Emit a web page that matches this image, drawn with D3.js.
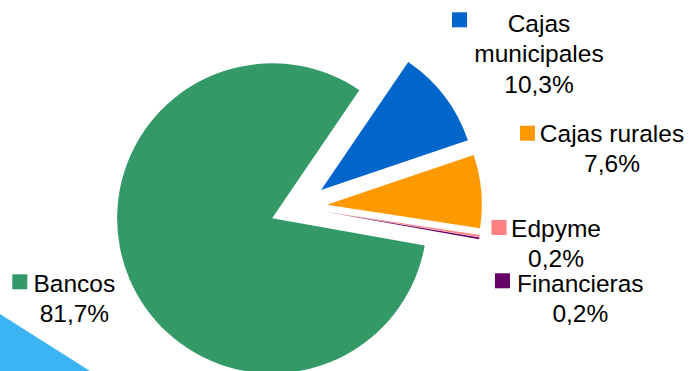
<!DOCTYPE html>
<html>
<head>
<meta charset="utf-8">
<script src="https://cdn.jsdelivr.net/npm/d3@7"></script>
<style>
  html, body { margin: 0; padding: 0; background: #ffffff; }
  svg { display: block; }
  text { font-family: Arial, "Liberation Sans", sans-serif; fill: #000; }
</style>
</head>
<body>
<svg id="chart" width="689" height="371"></svg>
<script>
// Participación por tipo de entidad (%)
const categories = ["Bancos", "Cajas municipales", "Cajas rurales", "Edpyme", "Financieras"];
const shares = [81.7, 10.3, 7.6, 0.2, 0.2];
const shareLabels = ["81,7%", "10,3%", "7,6%", "0,2%", "0,2%"];
const colors = ["#339966", "#0066cc", "#ff9900", "#ff8080", "#660066"];

// Label text lines per category
const nameLines = [["Bancos"], ["Cajas", "municipales"], ["Cajas rurales"], ["Edpyme"], ["Financieras"]];

// Label layout: text centre, first baseline, legend key corner
const labelLayout = [
  { cx: 74.4, y: 291.7, kx: 12.3, ky: 274.3 },
  { cx: 539, y: 31.7, kx: 452, ky: 12.3 },
  { cx: 612, y: 141.7, kx: 520, ky: 125.7 },
  { cx: 556, y: 236.7, kx: 491.5, ky: 220 },
  { cx: 580.3, y: 291.7, kx: 495, ky: 273.3 }
];

const svg = d3.select("#chart");
const W = 689, H = 371;

// Decorative corner band
svg.append("path")
  .attr("d", d3.line()([[0, 314], [90, 371], [0, 371]]) + "Z")
  .attr("fill", "#3cb4f4");

const cx = 298.4, cy = 207.3, radius = 155, explode = 28.5;

const pie = d3.pie()
  .sort(null)
  .value(d => d)
  .startAngle(100.1 * Math.PI / 180)
  .endAngle(100.1 * Math.PI / 180 + 2 * Math.PI);

const arc = d3.arc().innerRadius(0).outerRadius(radius);

const g = svg.append("g").attr("transform", `translate(${cx},${cy})`);

g.selectAll("path.slice")
  .data(pie(shares))
  .join("path")
  .attr("class", "slice")
  .attr("fill", (d, i) => colors[i])
  .attr("transform", d => {
    const a = (d.startAngle + d.endAngle) / 2;
    return `translate(${explode * Math.sin(a)},${-explode * Math.cos(a)})`;
  })
  .attr("d", arc);

// Data labels with legend keys
const lineH = 30.5;
const labels = svg.append("g");
categories.forEach((c, i) => {
  const L = labelLayout[i];
  labels.append("rect")
    .attr("x", L.kx).attr("y", L.ky)
    .attr("width", 15).attr("height", 15)
    .attr("fill", colors[i]);
  const lines = nameLines[i].concat([shareLabels[i]]);
  const t = labels.append("text")
    .attr("text-anchor", "middle")
    .attr("font-size", "24.5px");
  lines.forEach((s, j) => {
    t.append("tspan").attr("x", L.cx).attr("y", L.y + j * lineH).text(s);
  });
});
</script>
</body>
</html>
